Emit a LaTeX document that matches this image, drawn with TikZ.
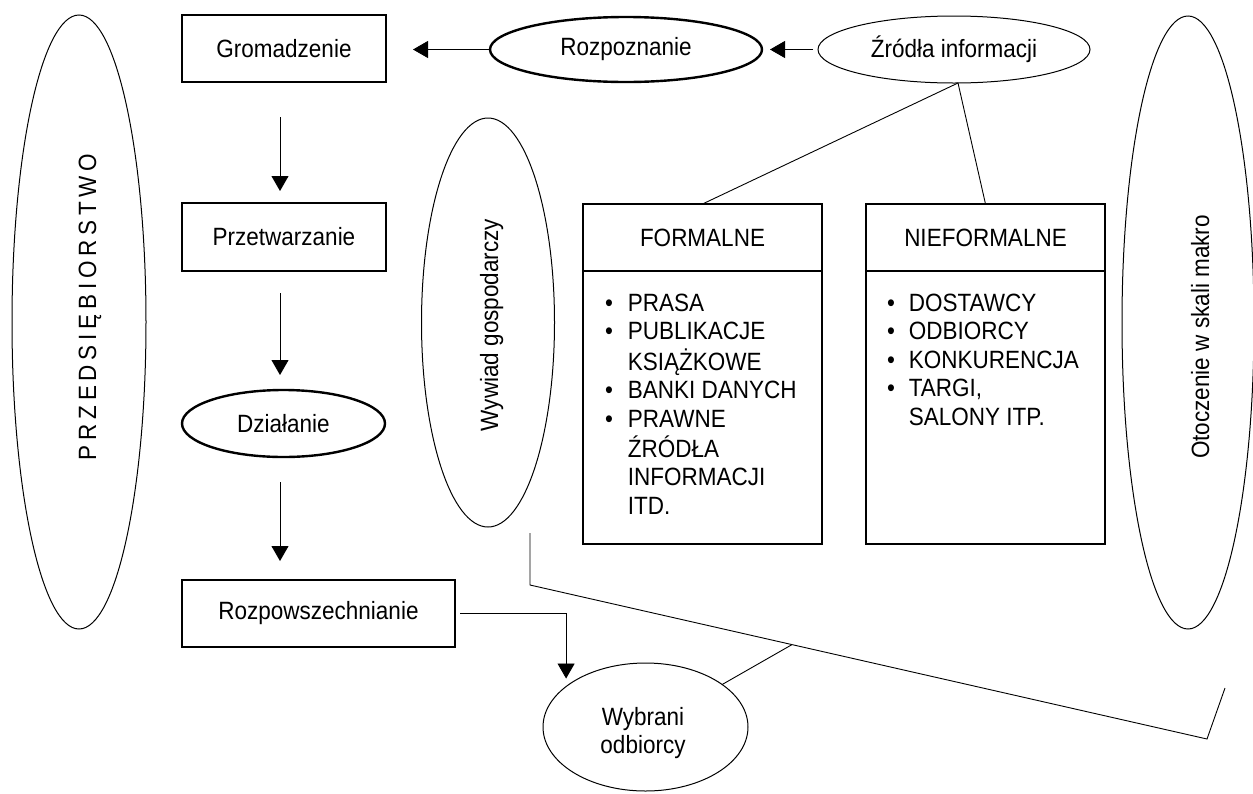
\documentclass[tikz,border=0pt]{standalone}
\usepackage{fontspec}
\setmainfont{Liberation Sans}[FakeStretch=0.9]
\newfontfamily\spacedfont{Liberation Sans}[FakeStretch=0.9,LetterSpace=19]
\usetikzlibrary{shapes.geometric,arrows.meta,calc}
\begin{document}
\begin{tikzpicture}[x=1pt,y=-1pt,
  every node/.style={font=\fontsize{25}{28.5}\selectfont, inner sep=0pt, outer sep=0pt},
  rbox/.style={draw, rectangle, line width=1.2pt},
  thinell/.style={draw, ellipse, line width=1pt},
  thickell/.style={draw, ellipse, line width=2.4pt},
  conn/.style={line width=0.9pt},
  arr/.style={conn, -{Triangle[length=15pt,width=17pt]}},
  vtext/.style={rotate=90, anchor=base}
]
\useasboundingbox (0,0) rectangle (1253,793);

% left ellipse
\node[thinell, minimum width=134pt, minimum height=614pt] (pe) at (79,322) {};
\node[vtext, font={\spacedfont\fontsize{25}{28.5}\selectfont}] (pet) at (96,307) {PRZEDSIĘBIORSTWO};

% process chain
\node[rbox, minimum width=204pt, minimum height=67pt] (gro) at (284,48.5) {Gromadzenie};
\node[rbox, minimum width=204pt, minimum height=68pt] (prz) at (284,237) {Przetwarzanie};
\node[thickell, minimum width=203pt, minimum height=67pt] (dzi) at (283.5,423.5) {Działanie};
\node[rbox, minimum width=273pt, minimum height=67pt] (rozp) at (318.5,613.5) {Rozpowszechnianie};

% top ellipses
\node[thickell, minimum width=272pt, minimum height=65pt] (roz) at (626,49.5) {Rozpoznanie};
\node[thinell, minimum width=272pt, minimum height=67pt] (zro) at (954,49.5) {Źródła informacji};

% Wywiad gospodarczy
\node[thinell, minimum width=133pt, minimum height=409pt] (wyw) at (488,322.5) {};
\node[vtext] (wywt) at (498,325) {Wywiad gospodarczy};

% Otoczenie
\node[thinell, minimum width=132pt, minimum height=613pt] (oto) at (1188,322.5) {};
\node[vtext] (otot) at (1209,337) {Otoczenie w skali makro};

% FORMALNE box
\node[rbox, minimum width=239pt, minimum height=67pt] (formT) at (702.5,237.5) {FORMALNE};
\node[rbox, minimum width=239pt, minimum height=273pt] (formB) at (702.5,407.5) {};
\node[anchor=north west] (flist) at (605,291.5) {%
\begin{tabular}{@{}l@{\hspace{15pt}}l@{}}
\textbullet & PRASA\\
\textbullet & PUBLIKACJE\\
 & KSIĄŻKOWE\\
\textbullet & BANKI DANYCH\\
\textbullet & PRAWNE\\
 & ŹRÓDŁA\\
 & INFORMACJI\\
 & ITD.
\end{tabular}};

% NIEFORMALNE box
\node[rbox, minimum width=239pt, minimum height=67pt] (niefT) at (985.5,237.5) {NIEFORMALNE};
\node[rbox, minimum width=239pt, minimum height=273pt] (niefB) at (985.5,407.5) {};
\node[anchor=north west] (nlist) at (887,291.5) {%
\begin{tabular}{@{}l@{\hspace{14pt}}l@{}}
\textbullet & DOSTAWCY\\
\textbullet & ODBIORCY\\
\textbullet & KONKURENCJA\\
\textbullet & TARGI,\\
 & SALONY ITP.
\end{tabular}};

% Wybrani odbiorcy
\node[thinell, minimum width=205pt, minimum height=128pt] (wyb) at (645.5,727) {};
\node[align=center] (wybt) at (643,733) {Wybrani\\odbiorcy};

% arrows
\draw[arr, shorten >=27pt] (roz.west) -- (roz.west -| gro.east);
\draw[arr, shorten <=5pt, shorten >=8pt] (zro.west) -- (zro.west -| roz.east);
\draw[arr, shorten <=35pt, shorten >=12pt] ([xshift=-4pt]gro.south) -- ([xshift=-4pt]prz.north);
\draw[arr, shorten <=22pt, shorten >=15pt] ([xshift=-4pt]prz.south) -- ([xshift=-4pt]prz.south |- dzi.north);
\draw[arr, shorten <=25pt, shorten >=19pt] ([xshift=-3.5pt]dzi.south) -- ([xshift=-3.5pt]dzi.south |- rozp.north);
\draw[arr, shorten <=5pt, shorten >=8pt] (rozp.east) -| (wyb.153);

% source lines
\draw[conn] ([xshift=4pt]zro.south) -- (formT.north);
\draw[conn] ([xshift=4pt]zro.south) -- (niefT.north);

% bracket line
\coordinate (w1) at (530,533);
\coordinate (w2) at (530,585);
\coordinate (w3) at (1207,739);
\coordinate (w4) at (1225,688);
\draw[conn] (w1) -- (w2) -- (w3) -- (w4);
\path (w2) -- (w3) coordinate[pos=0.387] (wm);
\draw[conn] (wyb.29) -- (wm);
\end{tikzpicture}
\end{document}
